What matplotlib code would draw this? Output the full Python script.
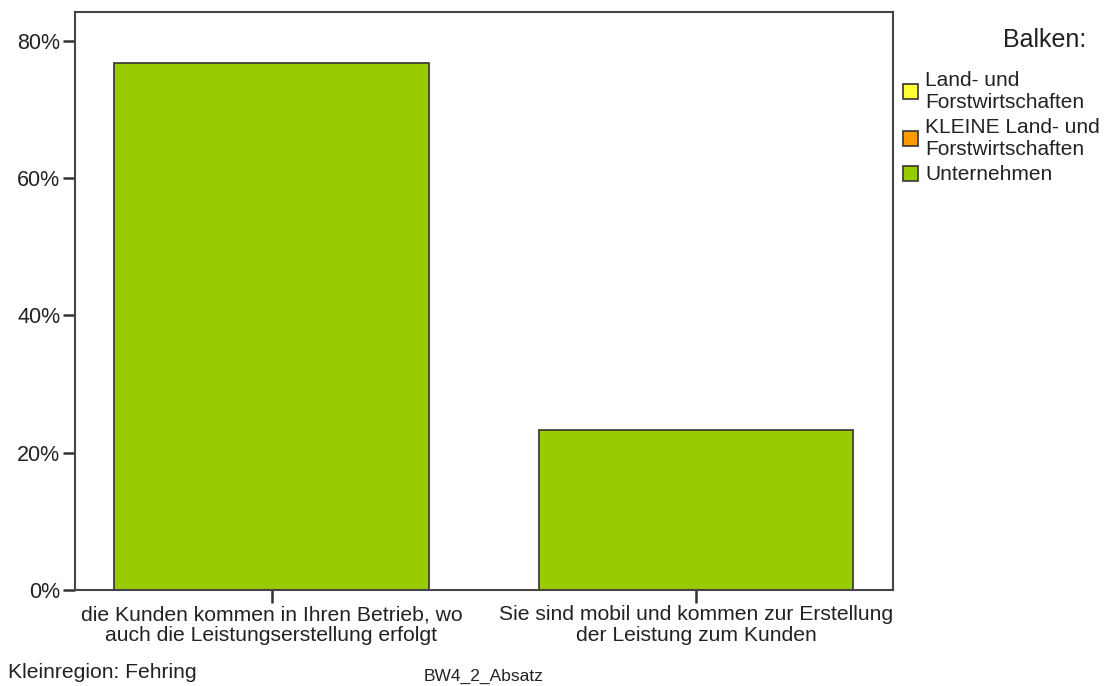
import matplotlib.pyplot as plt
from matplotlib.patches import Patch
from matplotlib.ticker import FuncFormatter

plt.rcParams['font.family'] = ['Liberation Sans', 'DejaVu Sans']

categories = ["die Kunden kommen in Ihren Betrieb, wo\nauch die Leistungserstellung erfolgt",
              "Sie sind mobil und kommen zur Erstellung\nder Leistung zum Kunden"]
unternehmen = [76.8, 23.3]
series_names = ["Land- und\nForstwirtschaften", "KLEINE Land- und\nForstwirtschaften", "Unternehmen"]
series_colors = ["#ffff33", "#ff9900", "#99cc00"]
yticks = [0, 20, 40, 60, 80]

fig = plt.figure(figsize=(11.07, 6.86), dpi=100, facecolor='white')
ax = fig.add_axes([75/1107, 1 - 590/686, (893-75)/1107, (590-12)/686])

x = list(range(len(categories)))
ax.bar(x, unternehmen, width=0.74, color=series_colors[2], edgecolor='#333333', linewidth=1.2)

ax.set_xlim(-0.463, 1.464)
ax.set_ylim(0, 84.2)
ax.set_yticks(yticks)
ax.yaxis.set_major_formatter(FuncFormatter(lambda v, p: f"{v:.0f}%"))
ax.set_xticks(x)
ax.set_xticklabels(categories, fontsize=15.2, color='#222222', linespacing=1.1)
ax.tick_params(axis='y', labelsize=15.5, labelcolor='#222222', length=9, width=1.8, color='#333333', pad=1.5)
ax.tick_params(axis='x', length=9, width=1.8, color='#333333', pad=2)
for s in ax.spines.values():
    s.set_color('#444444')
    s.set_linewidth(1.5)

handles = [Patch(facecolor=c, edgecolor='#333333', linewidth=1.2) for c in series_colors]
leg = fig.legend(handles, series_names, loc='upper left', bbox_to_anchor=(903/1107, 1 - 71/686),
                 frameon=False, fontsize=15, handlelength=0.72, handleheight=0.72, handletextpad=0.35,
                 labelspacing=0.32, borderaxespad=0, borderpad=0)
for t in leg.get_texts():
    t.set_linespacing(1.17)
    t.set_color('#222222')
fig.text(1086/1107, 1 - 40/686, "Balken:", ha='right', va='center', fontsize=18, color='#222222')

fig.text(8/1107, 1 - 672/686, "Kleinregion: Fehring", ha='left', va='center', fontsize=15.2, color='#222222')
fig.text(484/1107, 1 - 676/686, "BW4_2_Absatz", ha='center', va='center', fontsize=12.5, color='#222222')

fig.savefig("out.png", dpi=100, facecolor='white')
